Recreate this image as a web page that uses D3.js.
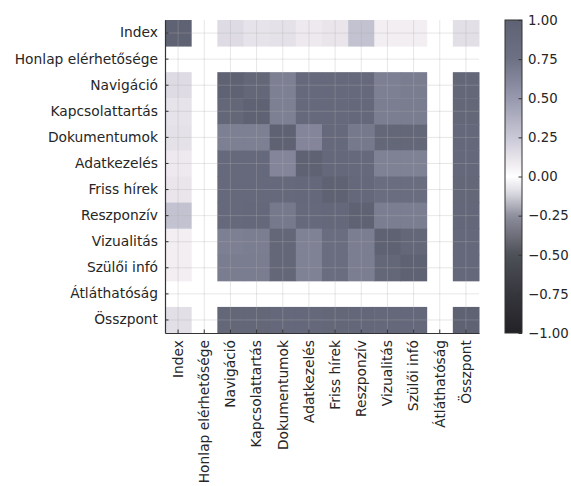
<!DOCTYPE html>
<html>
<head>
<meta charset="utf-8">
<script src="https://cdn.jsdelivr.net/npm/d3@7"></script>
<style>
  body { margin: 0; background: #fff; }
  text { font-family: "DejaVu Sans", sans-serif; fill: #262626; }
</style>
</head>
<body>
<script>
'use strict';

// variable names, in plot order
const labels = ["Index", "Honlap elérhetősége", "Navigáció", "Kapcsolattartás",
  "Dokumentumok", "Adatkezelés", "Friss hírek", "Reszponzív", "Vizualitás",
  "Szülői infó", "Átláthatóság", "Összpont"];

// correlation matrix (null = empty cell)
const corr = [
  [1, null, 0.16, 0.12, 0.13, 0.09, 0.11, 0.28, 0.07, 0.07, null, 0.14],
  [null, null, null, null, null, null, null, null, null, null, null, null],
  [0.16, null, 1, 0.92, 0.66, 0.88, 0.88, 0.88, 0.66, 0.68, null, 0.92],
  [0.12, null, 0.92, 1, 0.66, 0.88, 0.88, 0.90, 0.67, 0.68, null, 0.92],
  [0.13, null, 0.66, 0.66, 1, 0.62, 0.88, 0.70, 0.92, 0.92, null, 0.90],
  [0.09, null, 0.88, 0.88, 0.62, 1, 0.90, 0.88, 0.65, 0.65, null, 0.90],
  [0.11, null, 0.88, 0.88, 0.88, 0.90, 1, 0.90, 0.82, 0.82, null, 0.92],
  [0.28, null, 0.88, 0.90, 0.70, 0.88, 0.90, 1, 0.67, 0.67, null, 0.91],
  [0.07, null, 0.66, 0.67, 0.92, 0.65, 0.82, 0.67, 1, 0.92, null, 0.90],
  [0.07, null, 0.68, 0.68, 0.92, 0.65, 0.82, 0.67, 0.92, 1, null, 0.90],
  [null, null, null, null, null, null, null, null, null, null, null, null],
  [0.14, null, 0.92, 0.92, 0.90, 0.90, 0.92, 0.91, 0.90, 0.90, null, 1]
];

const cbarTicks = [1, 0.75, 0.5, 0.25, 0, -0.25, -0.5, -0.75, -1];

// colormap stops
const cmapStops = [-1, -0.75, -0.5, -0.25, -0.1, 0, 0.1, 0.25, 0.5, 0.75, 1];
const cmapColors = ["#222226", "#36373d", "#4e5058", "#8e8f9c", "#dcdce4", "#ffffff",
  "#ece7ed", "#c8c8d6", "#9898ae", "#6e7184", "#5f6273"];

const width = 571, height = 486;
const plot = { left: 165, right: 479, top: 20, bottom: 333 };

const svg = d3.select("body").append("svg")
  .attr("width", width)
  .attr("height", height);

const color = d3.scaleLinear().domain(cmapStops).range(cmapColors).clamp(true);

const x = d3.scaleBand().domain(labels).range([plot.left, plot.right]);
const y = d3.scaleBand().domain(labels).range([plot.top, plot.bottom]);

// cells
const cells = [];
corr.forEach((row, i) => row.forEach((v, j) => {
  if (v !== null) cells.push({ r: labels[i], c: labels[j], v: v });
}));

svg.append("g").selectAll("rect")
  .data(cells)
  .enter()
  .append("rect")
    .attr("x", d => x(d.c))
    .attr("y", d => y(d.r))
    .attr("width", x.bandwidth() + 0.5)
    .attr("height", y.bandwidth() + 0.5)
    .attr("fill", d => color(d.v));

// grid at cell centres
const grid = svg.append("g")
  .attr("stroke", "#b0b0b0")
  .attr("stroke-opacity", 0.4)
  .attr("stroke-width", 0.8);
grid.selectAll(".vg").data(labels).enter().append("line")
  .attr("x1", d => x(d) + x.bandwidth() / 2)
  .attr("x2", d => x(d) + x.bandwidth() / 2)
  .attr("y1", plot.top).attr("y2", plot.bottom);
grid.selectAll(".hg").data(labels).enter().append("line")
  .attr("y1", d => y(d) + y.bandwidth() / 2)
  .attr("y2", d => y(d) + y.bandwidth() / 2)
  .attr("x1", plot.left).attr("x2", plot.right);

// axes with inward ticks
const yAxis = d3.axisLeft(y).tickSizeInner(-3.5).tickSizeOuter(0).tickPadding(7);
const xAxis = d3.axisBottom(x).tickSizeInner(-3.5).tickSizeOuter(0).tickPadding(7);

const gy = svg.append("g")
  .attr("transform", `translate(${plot.left},0)`)
  .call(yAxis);
gy.selectAll("text").style("font-size", "13.8px").attr("fill", "#262626");

const gx = svg.append("g")
  .attr("transform", `translate(0,${plot.bottom})`)
  .call(xAxis);
gx.selectAll("text")
  .style("font-size", "13.8px")
  .attr("fill", "#262626")
  .attr("text-anchor", "end")
  .attr("transform", "rotate(-90)")
  .attr("x", -7)
  .attr("y", 0)
  .attr("dy", "0.35em");

[gx, gy].forEach(g => {
  g.select(".domain").attr("stroke", "#333").attr("stroke-width", 1.2);
  g.selectAll(".tick line").attr("stroke", "#333");
});

// colour bar
const cbar = { x: 505, w: 17 };
const cy = d3.scaleLinear().domain([-1, 1]).range([plot.bottom, plot.top]);

const defs = svg.append("defs");
const grad = defs.append("linearGradient")
  .attr("id", "cbar-grad")
  .attr("x1", 0).attr("y1", 1).attr("x2", 0).attr("y2", 0);
d3.range(0, 1.0001, 0.02).forEach(t => {
  grad.append("stop")
    .attr("offset", t)
    .attr("stop-color", color(-1 + 2 * t));
});

svg.append("rect")
  .attr("x", cbar.x)
  .attr("y", plot.top)
  .attr("width", cbar.w)
  .attr("height", plot.bottom - plot.top)
  .attr("fill", "url(#cbar-grad)")
  .attr("stroke", "#333")
  .attr("stroke-width", 1);

const cAxis = d3.axisRight(cy)
  .tickValues(cbarTicks)
  .tickFormat(d3.format(".2f"))
  .tickSizeInner(-3.5)
  .tickSizeOuter(0)
  .tickPadding(6);

const gc = svg.append("g")
  .attr("transform", `translate(${cbar.x + cbar.w},0)`)
  .call(cAxis);
gc.select(".domain").remove();
gc.selectAll(".tick line").attr("stroke", "#333");
gc.selectAll("text").style("font-size", "13.3px").attr("fill", "#262626");
</script>
</body>
</html>
